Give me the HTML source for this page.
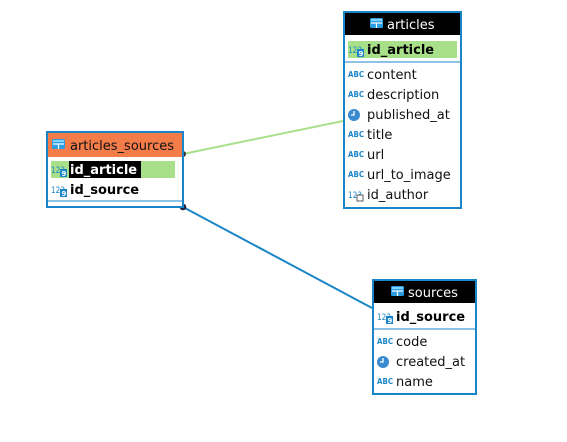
<!DOCTYPE html>
<html><head><meta charset="utf-8"><style>
html,body{margin:0;padding:0;background:#fff;width:567px;height:442px;overflow:hidden}
text{font-family:"DejaVu Sans","Liberation Sans",sans-serif}
</style></head><body>
<svg width="567" height="442" viewBox="0 0 567 442" xmlns="http://www.w3.org/2000/svg">
<defs>
<g id="tbl"><rect x="0" y="0" width="13" height="10" rx="1.5" fill="#2a9ee0"/><line x1="1" y1="5" x2="12" y2="5" stroke="#fff" stroke-width="1.2"/><line x1="6.5" y1="5" x2="6.5" y2="10" stroke="#fff" stroke-width="1.2"/><rect x="1" y="1" width="11" height="2" fill="#7fd0ff"/></g>
<g id="abc"><text x="0" y="0" font-size="8" font-weight="bold" fill="#1a86c8" textLength="16" lengthAdjust="spacingAndGlyphs">ABC</text></g>
<g id="clk"><circle cx="6" cy="-4" r="6" fill="#3a8ad0"/><path d="M6 -8 V-4 H3" stroke="#fff" stroke-width="1.3" fill="none"/></g>
<g id="key"><text x="0" y="-1" font-size="9" fill="#1a86c8" textLength="14" lengthAdjust="spacingAndGlyphs">123</text><rect x="9" y="-5" width="7" height="8" fill="#1a86c8"/><text x="10.5" y="2" font-size="7" fill="#fff" font-weight="bold">9</text></g>
<g id="fk"><text x="0" y="-1" font-size="9" fill="#1a86c8" textLength="14" lengthAdjust="spacingAndGlyphs">123</text><rect x="9" y="-4" width="6" height="6" fill="#fff" stroke="#333" stroke-width="0.8"/></g>
</defs>

<line x1="183" y1="154" x2="343" y2="121" stroke="#a8e08a" stroke-width="2"/>
<line x1="183" y1="207" x2="372" y2="308" stroke="#1a86c8" stroke-width="2"/>
<circle cx="183" cy="154" r="3" fill="#333"/>
<circle cx="183" cy="207" r="3.3" fill="#224"/>

<!-- articles -->
<rect x="344" y="12" width="117" height="196" fill="#fff" stroke="#1a86c8" stroke-width="2"/>
<rect x="345" y="13" width="115" height="22" fill="#000"/>
<use href="#tbl" x="370" y="18"/>
<text x="387" y="29" font-size="13" fill="#fff">articles</text>
<rect x="348" y="41" width="109" height="17" fill="#a8e08a"/>
<use href="#key" x="348" y="54"/>
<text x="367" y="54" font-size="13" font-weight="bold" fill="#000">id_article</text>
<line x1="345" y1="62" x2="460" y2="62" stroke="#1a86c8" stroke-width="1"/>
<use href="#abc" x="348" y="77"/><text x="367" y="79" font-size="13" fill="#111">content</text>
<use href="#abc" x="348" y="97"/><text x="367" y="99" font-size="13" fill="#111">description</text>
<use href="#clk" x="348" y="119"/><text x="367" y="119" font-size="13" fill="#111">published_at</text>
<use href="#abc" x="348" y="137"/><text x="367" y="139" font-size="13" fill="#111">title</text>
<use href="#abc" x="348" y="157"/><text x="367" y="159" font-size="13" fill="#111">url</text>
<use href="#abc" x="348" y="177"/><text x="367" y="179" font-size="13" fill="#111">url_to_image</text>
<use href="#fk" x="348" y="199"/><text x="367" y="199" font-size="13" fill="#111">id_author</text>

<!-- articles_sources -->
<rect x="47" y="132" width="136" height="75" fill="#fff" stroke="#1a86c8" stroke-width="2"/>
<rect x="48" y="133" width="134" height="24" fill="#f47c48"/>
<use href="#tbl" x="52" y="139"/>
<text x="70" y="150" font-size="13" fill="#111">articles_sources</text>
<rect x="51" y="161" width="124" height="17" fill="#a8e08a"/>
<rect x="69" y="161" width="72" height="17" fill="#000"/>
<use href="#key" x="51" y="174"/>
<text x="70" y="174" font-size="13" font-weight="bold" fill="#fff">id_article</text>
<use href="#key" x="51" y="194"/>
<text x="70" y="194" font-size="13" font-weight="bold" fill="#000">id_source</text>
<line x1="48" y1="201" x2="182" y2="201" stroke="#1a86c8" stroke-width="1"/>

<!-- sources -->
<rect x="373" y="280" width="103" height="114" fill="#fff" stroke="#1a86c8" stroke-width="2"/>
<rect x="374" y="281" width="101" height="22" fill="#000"/>
<use href="#tbl" x="391" y="286"/>
<text x="408" y="297" font-size="13" fill="#fff">sources</text>
<use href="#key" x="377" y="321"/>
<text x="396" y="321" font-size="13" font-weight="bold" fill="#000">id_source</text>
<line x1="374" y1="329" x2="475" y2="329" stroke="#1a86c8" stroke-width="1"/>
<use href="#abc" x="377" y="344"/><text x="396" y="346" font-size="13" fill="#111">code</text>
<use href="#clk" x="377" y="366"/><text x="396" y="366" font-size="13" fill="#111">created_at</text>
<use href="#abc" x="377" y="384"/><text x="396" y="386" font-size="13" fill="#111">name</text>
</svg>
</body></html>
